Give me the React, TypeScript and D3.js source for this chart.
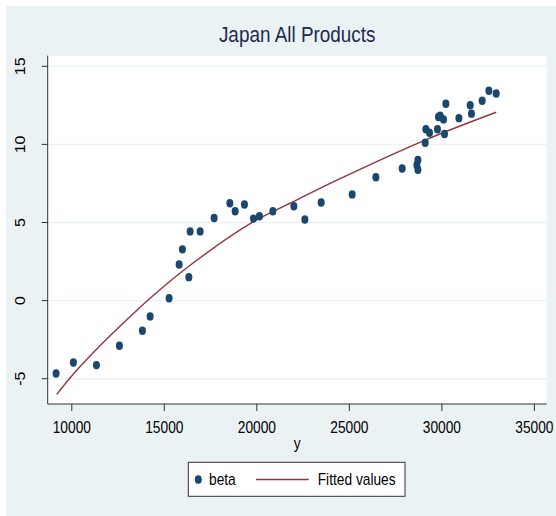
import React from "react";
import * as d3 from "d3";

// Scatter data: income (y) against the estimated coefficient (beta)
const incomeY = [
  9151, 10086, 11330, 12573, 13816, 14232, 15259, 15800, 15978, 16324,
  16395, 16935, 17692, 18541, 18827, 19330, 19816, 20141, 20865, 22000,
  22595, 23476, 25151, 26432, 27854, 28649, 28703, 28703, 29097, 29135,
  29330, 29762, 29816, 29908, 30087, 30141, 30216, 30919, 31530, 31600,
  32178, 32540, 32935,
];
const betaValues = [
  -4.67, -3.96, -4.13, -2.89, -1.93, -1.01, 0.15, 2.31, 3.28, 1.5,
  4.43, 4.43, 5.29, 6.23, 5.72, 6.15, 5.25, 5.4, 5.72, 6.04,
  5.19, 6.28, 6.8, 7.9, 8.46, 8.68, 9.0, 8.38, 10.11, 10.97,
  10.75, 10.97, 11.75, 11.83, 11.6, 10.67, 12.6, 11.68, 12.51, 11.97,
  12.79, 13.43, 13.26,
];

// Fitted values of beta along y
const fittedY = [9189, 10086, 11351, 12573, 14232, 16324, 19816, 22000, 24324, 29097, 32935];
const fittedValues = [-6.0, -4.7, -3.1, -1.68, 0.15, 2.2, 5.05, 6.35, 7.71, 10.28, 12.06];

const xTicks = [10000, 15000, 20000, 25000, 30000, 35000];
const yTicks = [-5, 0, 5, 10, 15];
const chartTitle = "Japan All Products";
const xAxisTitle = "y";
const legendLabels = ["beta", "Fitted values"];

const W = 556;
const H = 516;
const SQ = 0.86; // horizontal text compression
const FONT = "'Liberation Sans', Arial, Helvetica, sans-serif";
const BG = "#eaf2f3";
const NAVY = "#1a476f";
const MAROON = "#90353b";

const plot = { left: 47.7, right: 546.7, top: 55.7, bottom: 404 };

const xScale = d3.scaleLinear().domain([10000, 35000]).range([71.8, 534.4]);
const yScale = d3.scaleLinear().domain([-5, 15]).range([378.7, 66.3]);

function SText(props: {
  x: number;
  y: number;
  rotate?: number;
  size: number;
  anchor?: string;
  fill?: string;
  children: React.ReactNode;
}) {
  const { x, y, rotate, size, anchor = "middle", fill = "#000", children } = props;
  return (
    <text
      transform={`translate(${x},${y}) scale(${SQ},1)${rotate ? ` rotate(${rotate})` : ""}`}
      fontFamily={FONT}
      fontSize={size}
      textAnchor={anchor}
      fill={fill}
    >
      {children}
    </text>
  );
}

export default function App() {
  const fitPts = fittedY.map((x, i) => [x, fittedValues[i]] as [number, number]);
  const line = d3
    .line<[number, number]>()
    .x((d) => xScale(d[0]))
    .y((d) => yScale(d[1]))
    .curve(d3.curveCatmullRom.alpha(0.5));

  const legendY = 479.5;

  return (
    <svg
      width={W}
      height={H}
      style={{ position: "absolute", left: 0, top: 0, display: "block" }}
    >
      <rect x={0} y={0} width={W} height={H} fill="#fff" />
      <rect x={6} y={6} width={W - 6} height={H - 6} fill={BG} />
      <rect
        x={plot.left}
        y={plot.top}
        width={plot.right - plot.left}
        height={plot.bottom - plot.top}
        fill="#fff"
      />

      {/* gridlines */}
      {yTicks.map((t) => (
        <line
          key={"g" + t}
          x1={plot.left}
          x2={plot.right}
          y1={yScale(t)}
          y2={yScale(t)}
          stroke={BG}
          strokeWidth={1.4}
        />
      ))}

      {/* title */}
      <SText x={(plot.left + plot.right) / 2} y={41.5} size={22} fill="#1e2a4f">
        {chartTitle}
      </SText>

      {/* fitted curve */}
      <path d={line(fitPts) || ""} fill="none" stroke={MAROON} strokeWidth={1.4} />

      {/* points */}
      {incomeY.map((x, i) => (
        <ellipse
          key={i}
          cx={xScale(x)}
          cy={yScale(betaValues[i])}
          rx={3.5}
          ry={4.2}
          fill={NAVY}
        />
      ))}

      {/* axes */}
      <line x1={plot.left} x2={plot.left} y1={plot.top} y2={plot.bottom} stroke="#333" strokeWidth={1} />
      <line x1={plot.left} x2={plot.right} y1={plot.bottom} y2={plot.bottom} stroke="#333" strokeWidth={1} />
      {yTicks.map((t) => (
        <g key={"y" + t}>
          <line x1={plot.left - 6} x2={plot.left} y1={yScale(t)} y2={yScale(t)} stroke="#333" />
          <SText x={25} y={yScale(t)} rotate={-90} size={16}>
            {t}
          </SText>
        </g>
      ))}
      {xTicks.map((t) => (
        <g key={"x" + t}>
          <line x1={xScale(t)} x2={xScale(t)} y1={plot.bottom} y2={plot.bottom + 7} stroke="#333" />
          <SText x={xScale(t)} y={432.5} size={16}>
            {t}
          </SText>
        </g>
      ))}
      <SText x={(plot.left + plot.right) / 2} y={449} size={16}>
        {xAxisTitle}
      </SText>

      {/* legend */}
      <rect x={188.3} y={462.3} width={216.7} height={34} fill="#fff" stroke="#333" strokeWidth={1} />
      <ellipse cx={198.3} cy={legendY} rx={3.5} ry={4.2} fill={NAVY} />
      <SText x={209} y={legendY + 5.7} size={16} anchor="start">
        {legendLabels[0]}
      </SText>
      <line x1={256} x2={308.7} y1={legendY} y2={legendY} stroke={MAROON} strokeWidth={1.4} />
      <SText x={317.7} y={legendY + 5.7} size={16} anchor="start">
        {legendLabels[1]}
      </SText>
    </svg>
  );
}
